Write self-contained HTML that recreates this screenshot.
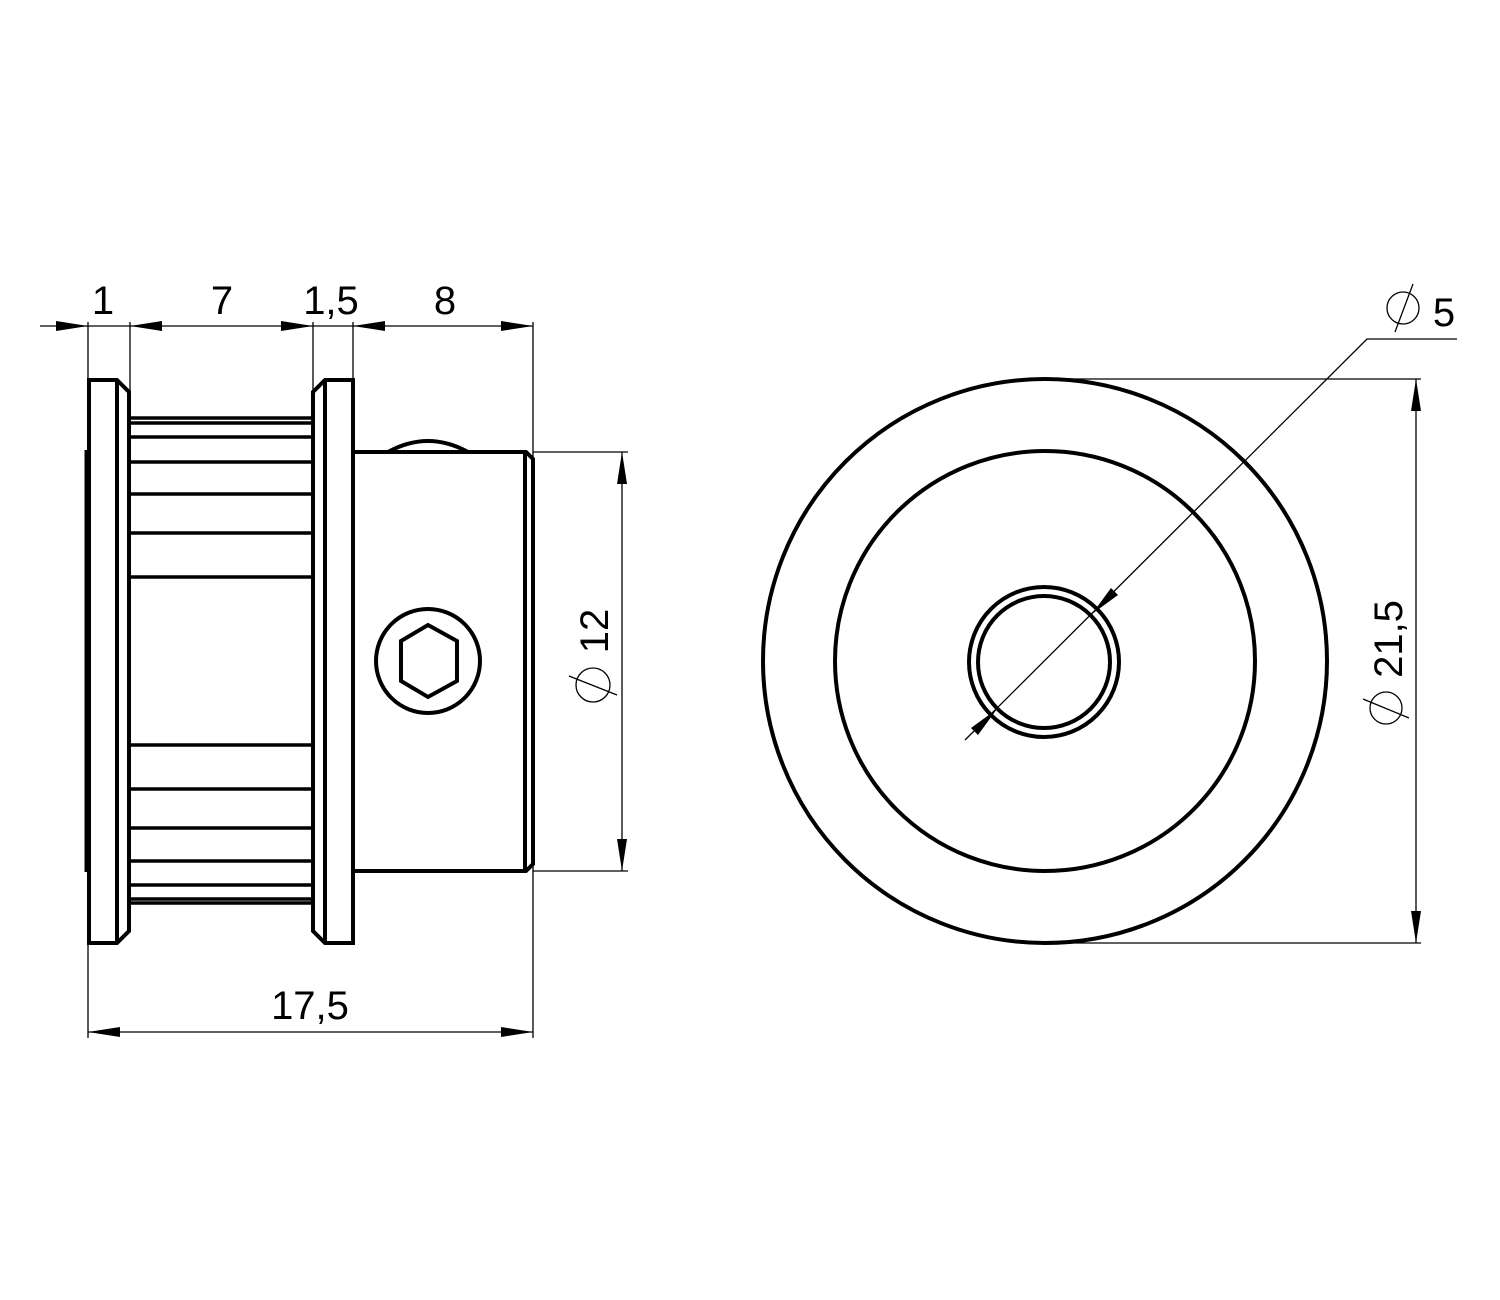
<!DOCTYPE html>
<html><head><meta charset="utf-8"><style>html,body{margin:0;padding:0;background:#fff}svg{display:block}</style></head>
<body>
<svg width="1500" height="1300" viewBox="0 0 1500 1300" xmlns="http://www.w3.org/2000/svg">
<rect width="1500" height="1300" fill="#fff"/>
<g fill="none" stroke="#000" stroke-width="4" stroke-linejoin="miter">
  <!-- left flange -->
  <path d="M89,380 H117 L129,392 V931 L117,943 H89 Z"/>
  <line x1="117" y1="380" x2="117" y2="943"/>
  <line x1="86" y1="450" x2="86" y2="872" stroke-width="3"/>
  <!-- right flange -->
  <path d="M353,380 H325 L313,392 V931 L325,943 H353 Z"/>
  <line x1="325" y1="380" x2="325" y2="943"/>
  <!-- teeth lines -->
  <g stroke-width="3.5">
    <line x1="129" y1="418" x2="313" y2="418"/>
    <line x1="129" y1="423" x2="313" y2="423"/>
    <line x1="129" y1="437" x2="313" y2="437"/>
    <line x1="129" y1="462" x2="313" y2="462"/>
    <line x1="129" y1="494" x2="313" y2="494"/>
    <line x1="129" y1="533" x2="313" y2="533"/>
    <line x1="129" y1="577" x2="313" y2="577"/>
    <line x1="129" y1="745" x2="313" y2="745"/>
    <line x1="129" y1="789" x2="313" y2="789"/>
    <line x1="129" y1="828" x2="313" y2="828"/>
    <line x1="129" y1="861" x2="313" y2="861"/>
    <line x1="129" y1="885" x2="313" y2="885"/>
    <line x1="129" y1="899" x2="313" y2="899"/>
    <line x1="129" y1="903" x2="313" y2="903"/>
  </g>
  <!-- hub -->
  <path d="M353,452 H526 L533,459 V864 L526,871 H353"/>
  <line x1="525" y1="452" x2="525" y2="871"/>
  <path d="M388,452 Q428,430 468,452"/>
  <!-- set screw -->
  <circle cx="428" cy="661" r="52"/>
  <polygon points="428,625 457,641 457,681 428,697 401,681 401,641"/>
  <!-- right view -->
  <circle cx="1045" cy="661" r="282"/>
  <circle cx="1045" cy="661" r="210"/>
  <circle cx="1044" cy="662" r="75"/>
  <circle cx="1044" cy="662" r="66"/>
</g>
<g fill="none" stroke="#000" stroke-width="1.3">
  <!-- top dims -->
  <line x1="40" y1="326" x2="533" y2="326"/>
  <line x1="88" y1="322" x2="88" y2="452"/>
  <line x1="130" y1="322" x2="130" y2="392"/>
  <line x1="313" y1="322" x2="313" y2="392"/>
  <line x1="353" y1="322" x2="353" y2="380"/>
  <line x1="533" y1="322" x2="533" y2="1038"/>
  <line x1="88" y1="943" x2="88" y2="1038"/>
  <line x1="88" y1="1032" x2="533" y2="1032"/>
  <!-- phi12 -->
  <line x1="533" y1="452" x2="628" y2="452"/>
  <line x1="533" y1="871" x2="628" y2="871"/>
  <line x1="622" y1="452" x2="622" y2="871"/>
  <!-- phi21.5 -->
  <line x1="1045" y1="379" x2="1421" y2="379"/>
  <line x1="1045" y1="943" x2="1421" y2="943"/>
  <line x1="1416" y1="379" x2="1416" y2="943"/>
  <!-- phi5 leader -->
  <polyline points="965,740 1367,339 1457,339"/>
  <!-- diameter symbols -->
  <circle cx="593" cy="685" r="17"/>
  <line x1="569" y1="676" x2="617" y2="695"/>
  <circle cx="1386" cy="708" r="16"/>
  <line x1="1363" y1="699" x2="1409" y2="718"/>
  <circle cx="1403" cy="308" r="16"/>
  <line x1="1395" y1="332" x2="1413" y2="284"/>
</g>
<g fill="#000" stroke="none">
  <!-- top arrows -->
  <polygon points="88,326 56,321 56,331"/>
  <polygon points="130,326 162,321 162,331"/>
  <polygon points="313,326 281,321 281,331"/>
  <polygon points="353,326 385,321 385,331"/>
  <polygon points="533,326 501,321 501,331"/>
  <!-- bottom -->
  <polygon points="88,1032 120,1027 120,1037"/>
  <polygon points="533,1032 501,1027 501,1037"/>
  <!-- phi12 -->
  <polygon points="622,452 617,484 627,484"/>
  <polygon points="622,871 617,839 627,839"/>
  <!-- phi21.5 -->
  <polygon points="1416,379 1411,411 1421,411"/>
  <polygon points="1416,943 1411,911 1421,911"/>
  <!-- phi5 arrows -->
  <polygon points="1092,614 1111,588 1118,595"/>
  <polygon points="997,709 971,728 978,735"/>
</g>
<g font-family="Liberation Sans, DejaVu Sans, sans-serif" font-size="40" fill="#000">
  <text x="103" y="314" text-anchor="middle">1</text>
  <text x="222" y="314" text-anchor="middle">7</text>
  <text x="331" y="314" text-anchor="middle">1,5</text>
  <text x="445" y="314" text-anchor="middle">8</text>
  <text x="310" y="1019" text-anchor="middle">17,5</text>
  <text x="1444" y="326" text-anchor="middle">5</text>
  <text transform="translate(608,631) rotate(-90)" text-anchor="middle">12</text>
  <text transform="translate(1402,639) rotate(-90)" text-anchor="middle">21,5</text>
</g>
</svg>
</body></html>
